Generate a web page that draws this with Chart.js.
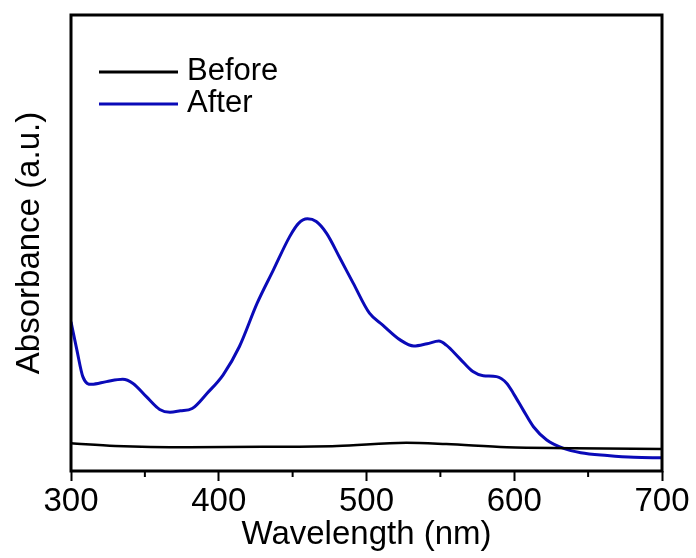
<!DOCTYPE html>
<html>
<head>
<meta charset="utf-8">
<script src="https://cdn.jsdelivr.net/npm/chart.js@4.4.1/dist/chart.umd.min.js"></script>
<style>
  html, body { margin: 0; padding: 0; background: #fff; }
  #wrap { width: 696px; height: 558px; }
</style>
</head>
<body>
<div id="wrap"><canvas id="uvChart" width="696" height="558"></canvas></div>
<script>
// UV-vis spectra, absorbance in arbitrary units (0..1 of the plot height)
const seriesLabels = ['Before', 'After'];

const beforeWavelength = [300, 330, 380, 430, 480, 527, 554, 595, 640, 700];
const beforeAbs = [0.061, 0.055, 0.052, 0.053, 0.055, 0.062, 0.059, 0.052, 0.050, 0.048];

const afterWavelength = [300, 304, 308, 314, 324, 335, 342, 351, 360, 367, 374, 382, 392, 403, 414,
    426, 437, 448, 454, 460, 466, 473, 482, 491, 502, 511, 523, 532, 541, 549, 554, 563, 572,
    579, 588, 595, 600, 606, 613, 622, 633, 645, 663, 681, 700];
const afterAbs = [0.327, 0.265, 0.207, 0.190, 0.196, 0.201, 0.192, 0.163, 0.135, 0.129, 0.132, 0.137,
    0.170, 0.211, 0.273, 0.368, 0.441, 0.514, 0.543, 0.553, 0.547, 0.521, 0.467, 0.412, 0.346,
    0.320, 0.287, 0.274, 0.279, 0.285, 0.276, 0.247, 0.218, 0.209, 0.207, 0.192, 0.167, 0.134,
    0.097, 0.068, 0.050, 0.040, 0.034, 0.030, 0.029];

const xTicks = [300, 400, 500, 600, 700];
const xMinorTicks = [350, 450, 550, 650];

const FONT = '"Liberation Sans", Arial, sans-serif';

function toPoints(xs, ys) {
    return xs.map((x, i) => ({ x: x, y: ys[i] }));
}

// frame, minor ticks and the in-plot legend
const framePlugin = {
    id: 'frame',
    afterDraw(chart) {
        const ctx = chart.ctx;
        const a = chart.chartArea;
        const xs = chart.scales.x;
        ctx.save();
        ctx.strokeStyle = '#000';
        ctx.lineWidth = 3;
        ctx.strokeRect(a.left, a.top, a.right - a.left, a.bottom - a.top);

        ctx.lineWidth = 2;
        xMinorTicks.forEach((v) => {
            const px = xs.getPixelForValue(v);
            ctx.beginPath();
            ctx.moveTo(px, a.bottom);
            ctx.lineTo(px, a.bottom + 6);
            ctx.stroke();
        });

        // legend
        ctx.font = '31px ' + FONT;
        ctx.textBaseline = 'middle';
        chart.data.datasets.forEach((ds, i) => {
            const y = a.top + 57 + i * 32;
            ctx.strokeStyle = ds.borderColor;
            ctx.lineWidth = 3;
            ctx.beginPath();
            ctx.moveTo(a.left + 28, y);
            ctx.lineTo(a.left + 107, y);
            ctx.stroke();
            ctx.fillStyle = '#000';
            ctx.fillText(ds.label, a.left + 116, y - 1);
        });
        ctx.restore();
    }
};

const ctx = document.getElementById('uvChart').getContext('2d');
new Chart(ctx, {
    type: 'line',
    data: {
        datasets: [
            {
                label: seriesLabels[0],
                data: toPoints(beforeWavelength, beforeAbs),
                borderColor: '#000000',
                borderWidth: 2.5,
                pointRadius: 0,
                cubicInterpolationMode: 'monotone',
            },
            {
                label: seriesLabels[1],
                data: toPoints(afterWavelength, afterAbs),
                borderColor: '#0a0ab8',
                borderWidth: 3,
                pointRadius: 0,
                cubicInterpolationMode: 'monotone',
            },
        ],
    },
    options: {
        responsive: false,
        animation: false,
        events: [],
        layout: { padding: { top: 15, right: 34, left: 0, bottom: 0 } },
        plugins: {
            legend: { display: false },
            tooltip: { enabled: false },
        },
        scales: {
            x: {
                type: 'linear',
                min: 300,
                max: 700,
                afterBuildTicks: (scale) => {
                    scale.ticks = xTicks.map((v) => ({ value: v }));
                },
                afterFit: (scale) => { scale.height = 87; },
                ticks: {
                    color: '#000',
                    font: { family: FONT, size: 33 },
                    padding: 1,
                    maxRotation: 0,
                },
                grid: {
                    display: true,
                    drawOnChartArea: false,
                    drawTicks: true,
                    tickLength: 10,
                    tickColor: '#000',
                    tickWidth: 2,
                },
                border: { display: false },
                title: {
                    display: true,
                    text: 'Wavelength (nm)',
                    color: '#000',
                    font: { family: FONT, size: 33 },
                    padding: { top: 0, bottom: 3 },
                },
            },
            y: {
                min: 0,
                max: 1,
                afterFit: (scale) => { scale.width = 71; },
                ticks: { display: false },
                grid: { display: false },
                border: { display: false },
                title: {
                    display: true,
                    text: 'Absorbance (a.u.)',
                    color: '#000',
                    font: { family: FONT, size: 33 },
                    padding: { top: 10, bottom: 0 },
                },
            },
        },
    },
    plugins: [framePlugin],
});
</script>
</body>
</html>
